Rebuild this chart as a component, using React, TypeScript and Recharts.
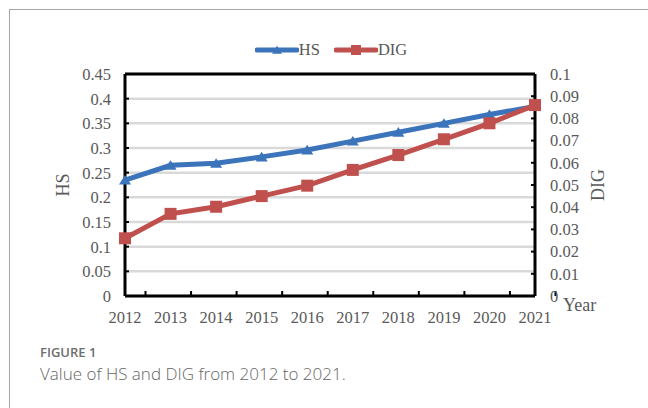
import React from "react";
import {
  CartesianGrid,
  Legend,
  Line,
  LineChart,
  ReferenceLine,
  XAxis,
  YAxis,
} from "recharts";

const years = ["2012", "2013", "2014", "2015", "2016", "2017", "2018", "2019", "2020", "2021"];
const hsValues = [0.235, 0.265, 0.269, 0.282, 0.296, 0.314, 0.332, 0.35, 0.368, 0.384];
const digValues = [0.026, 0.037, 0.0402, 0.045, 0.0497, 0.0568, 0.0635, 0.0706, 0.0778, 0.086];
const hsTicks = [0, 0.05, 0.1, 0.15, 0.2, 0.25, 0.3, 0.35, 0.4, 0.45];
const digTicks = [0, 0.01, 0.02, 0.03, 0.04, 0.05, 0.06, 0.07, 0.08, 0.09, 0.1];
const legendOrder = ["HS", "DIG"];

const data = years.map((year, i) => ({ year, HS: hsValues[i], DIG: digValues[i] }));

const BLUE = "#3B74BB";
const RED = "#C0504D";
const TEXT = "#595959";
const SERIF = "'Liberation Serif', 'Times New Roman', serif";
const serifStyle = { fontFamily: SERIF };

const fmt = (v: number) => String(+v.toFixed(2));

const Triangle = ({ cx, cy, fill, size = 6 }: any) => (
  <polygon
    points={`${cx - size},${cy + size * 0.75} ${cx + size},${cy + size * 0.75} ${cx},${cy - size * 0.85}`}
    fill={fill}
  />
);

const Square = ({ cx, cy, fill, size = 6 }: any) => (
  <rect x={cx - size} y={cy - size} width={size * 2} height={size * 2} fill={fill} />
);

const YearTick = ({ x, y, payload, width, visibleTicksCount }: any) => {
  const half =
    (payload && payload.offset) || (width && visibleTicksCount ? width / visibleTicksCount / 2 : 20.5);
  return (
    <g>
      <text x={x} y={y + 27} textAnchor="middle" fill={TEXT} fontSize={16.5} style={serifStyle}>
        {payload.value}
      </text>
      <line x1={x + half} x2={x + half} y1={y} y2={y - 5} stroke="#000" strokeWidth={2} />
    </g>
  );
};

const ValueTick = ({ x, y, payload, textAnchor }: any) => (
  <text x={x} y={y} dy="0.355em" textAnchor={textAnchor} fill={TEXT} fontSize={16.5} style={serifStyle}>
    {fmt(payload.value)}
  </text>
);

const LegendContent = ({ payload }: any) => {
  const items = [...(payload || [])].sort(
    (a: any, b: any) => legendOrder.indexOf(a.dataKey) - legendOrder.indexOf(b.dataKey)
  );
  return (
    <div style={{ display: "flex", justifyContent: "center", paddingLeft: 14, gap: 14 }}>
      {items.map((entry: any) => (
        <div key={entry.value} style={{ display: "flex", alignItems: "center" }}>
          <svg width={44} height={16}>
            <line x1={2} x2={42} y1={8} y2={8} stroke={entry.color} strokeWidth={5} strokeLinecap="round" />
            {entry.dataKey === "HS" ? (
              <Triangle cx={22} cy={8} fill={entry.color} size={5} />
            ) : (
              <Square cx={22} cy={8} fill={entry.color} size={5} />
            )}
          </svg>
          <span style={{ fontFamily: SERIF, fontSize: 16.5, color: TEXT }}>{entry.value}</span>
        </div>
      ))}
    </div>
  );
};

export default function App() {
  return (
    <div style={{ position: "absolute", left: 0, top: 0, width: 648, height: 408, background: "#fff", overflow: "hidden" }}>
      <div
        style={{
          position: "absolute",
          left: 9,
          top: 9,
          width: 700,
          height: 500,
          borderTop: "1.5px solid #a6a6a6",
          borderLeft: "1.5px solid #a6a6a6",
        }}
      />
      <div style={{ position: "absolute", left: 0, top: 0, fontFamily: SERIF }}>
        <LineChart
          width={648}
          height={340}
          data={data}
          margin={{ top: 74, left: 65, right: 58, bottom: 14 }}
          style={serifStyle}
        >
          <CartesianGrid vertical={false} stroke="#d9d9d9" strokeWidth={2.5} yAxisId="left" />
          <XAxis
            dataKey="year"
            height={30}
            axisLine={{ stroke: "#000", strokeWidth: 3 }}
            tickLine={false}
            tickSize={0}
            tickMargin={0}
            interval={0}
            tick={<YearTick />}
            label={{ value: "Year", position: "right", offset: 28, dy: -6, fill: TEXT, fontSize: 18, style: serifStyle }}
          />
          <YAxis
            yAxisId="left"
            width={60}
            domain={[0, 0.45]}
            ticks={hsTicks}
            interval={0}
            axisLine={{ stroke: "#000", strokeWidth: 3 }}
            tickLine={{ stroke: "#000", strokeWidth: 2 }}
            tickSize={-4}
            tickMargin={18}
            tick={<ValueTick />}
            label={{ value: "HS", angle: -90, position: "center", dx: -32, fill: TEXT, fontSize: 18, style: serifStyle }}
          />
          <YAxis
            yAxisId="right"
            orientation="right"
            width={55}
            domain={[0, 0.1]}
            ticks={digTicks}
            interval={0}
            axisLine={{ stroke: "#000", strokeWidth: 3 }}
            tickLine={{ stroke: "#000", strokeWidth: 2 }}
            tickSize={-4}
            tickMargin={19}
            tick={<ValueTick />}
            label={{ value: "DIG", angle: -90, position: "center", dx: 35, fill: TEXT, fontSize: 18, style: serifStyle }}
          />
          <ReferenceLine yAxisId="left" y={0.45} stroke="#000" strokeWidth={3} />
          <Legend
            verticalAlign="middle"
            align="center"
            wrapperStyle={{ top: 40, left: 0, width: 648 }}
            content={<LegendContent />}
          />
          <Line
            yAxisId="left"
            dataKey="HS"
            name="HS"
            stroke={BLUE}
            strokeWidth={5}
            dot={(p: any) => <Triangle key={`hs-${p.index}`} cx={p.cx} cy={p.cy} fill={BLUE} size={6} />}
            isAnimationActive={false}
          />
          <Line
            yAxisId="right"
            dataKey="DIG"
            name="DIG"
            stroke={RED}
            strokeWidth={5}
            dot={(p: any) => <Square key={`dig-${p.index}`} cx={p.cx} cy={p.cy} fill={RED} size={6} />}
            isAnimationActive={false}
          />
        </LineChart>
      </div>
      <div
        style={{
          position: "absolute",
          left: 40,
          top: 343,
          fontFamily: "'Open Sans', sans-serif",
          fontSize: 13,
          fontWeight: 600,
          color: "#6d6d6d",
          lineHeight: "18px",
        }}
      >
        FIGURE 1
      </div>
      <div
        style={{
          position: "absolute",
          left: 40,
          top: 363,
          fontFamily: "'Open Sans', sans-serif",
          fontSize: 17,
          fontWeight: 300,
          color: "#666",
          lineHeight: "22px",
        }}
      >
        Value of HS and DIG from 2012 to 2021.
      </div>
    </div>
  );
}
